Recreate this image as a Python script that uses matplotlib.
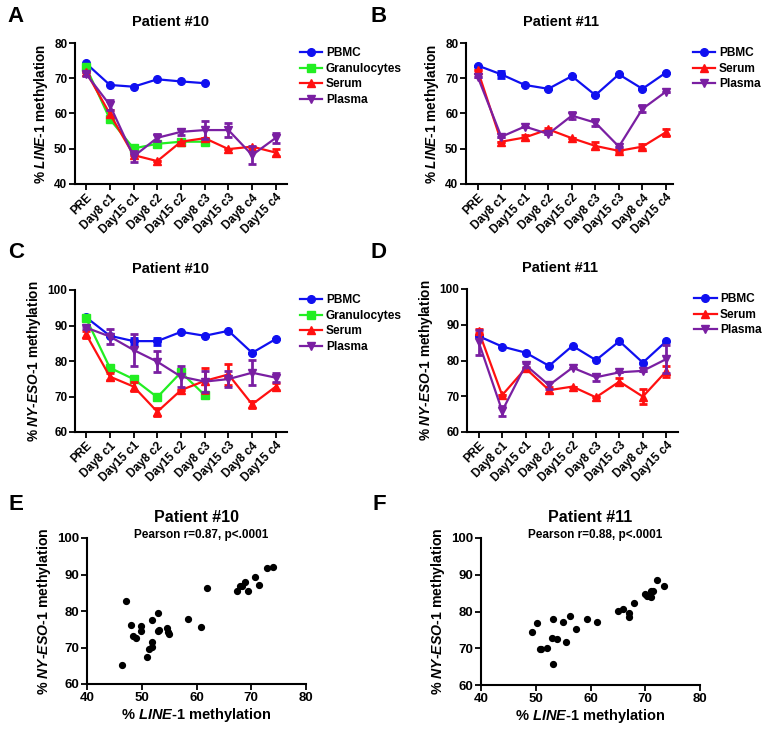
"""Methylation time courses (LINE-1 / NY-ESO-1) and their correlation, patients #10 and #11."""

import matplotlib

matplotlib.use("Agg")

import matplotlib.pyplot as plt
import numpy as np
from matplotlib.lines import Line2D

nan = np.nan

TIMEPOINTS = ["PRE", "Day8 c1", "Day15 c1", "Day8 c2", "Day15 c2",
              "Day8 c3", "Day15 c3", "Day8 c4", "Day15 c4"]

# panel A: LINE-1, patient #10
pbmc_a = [74.2, 68.1, 67.6, 69.7, 69.1, 68.6, nan, nan, nan]
gran_a = [73.1, 58.4, 50.1, 51.4, 52.0, 52.0, nan, nan, nan]
serum_a = [71.8, 59.9, 48.2, 46.5, 52.0, 53.0, 49.9, 50.6, 48.9]
serum_a_err = [0, 1.0, 0, 0, 0, 0, 0, 0, 0.9]
plasma_a = [71.2, 62.4, 47.8, 53.1, 54.8, 55.3, 55.3, 48.2, 53.1]
plasma_a_err = [0.5, 1.4, 1.5, 1.0, 0.8, 2.5, 2.0, 2.5, 1.5]

# panel B: LINE-1, patient #11
pbmc_b = [73.6, 71.1, 68.1, 67.0, 70.6, 65.2, 71.1, 67.0, 71.6]
pbmc_b_err = [0, 1.0, 0, 0, 0, 0, 0, 0, 0]
serum_b = [72.2, 52.0, 53.2, 55.5, 53.0, 50.8, 49.4, 50.6, 54.7]
serum_b_err = [0, 0, 0.8, 0.4, 0, 1.0, 0.3, 0.8, 1.0]
plasma_b = [70.4, 53.4, 56.3, 54.2, 59.4, 57.4, 50.6, 61.3, 66.2]
plasma_b_err = [0, 0, 0, 0, 1.0, 1.0, 0, 1.0, 0]

# panel C: NY-ESO-1, patient #10
pbmc_c = [92.3, 87.1, 85.6, 85.6, 88.2, 87.1, 88.5, 82.3, 86.2]
pbmc_c_err = [0, 0, 1.0, 1.0, 0, 0, 0, 0, 0]
gran_c = [92.0, 78.1, 74.9, 69.8, 76.8, 70.4, nan, nan, nan]
serum_c = [87.5, 75.6, 72.8, 65.7, 71.8, 74.4, 76.2, 67.8, 72.8]
serum_c_err = [1.0, 1.0, 1.2, 1.2, 0, 3.5, 3.0, 1.0, 1.0]
plasma_c = [89.4, 86.9, 83.1, 79.8, 75.6, 74.2, 74.9, 76.7, 75.3]
plasma_c_err = [0.5, 2.0, 4.5, 3.0, 3.0, 3.0, 2.3, 3.5, 1.2]

# panel D: NY-ESO-1, patient #11
pbmc_d = [86.8, 83.9, 82.2, 78.5, 84.1, 80.1, 85.4, 79.4, 85.4]
serum_d = [88.2, 70.3, 77.8, 71.7, 72.7, 69.7, 74.1, 69.9, 77.0]
serum_d_err = [0.5, 0, 0, 0.8, 0, 0, 1.0, 2.0, 1.5]
plasma_d = [85.1, 65.9, 78.7, 73.1, 78.0, 75.3, 76.7, 77.1, 80.4]
plasma_d_err = [3.5, 1.3, 0.5, 1.0, 0, 1.0, 0, 0, 4.0]

# panel E: correlation, patient #10
line1_e = [46.4, 47.2, 48.0, 48.4, 48.9, 49.9, 49.9, 51.0, 51.4, 51.8,
           51.9, 51.9, 52.9, 52.9, 53.2, 54.6, 54.8, 55.0, 58.4, 60.9,
           62.0, 67.4, 67.9, 68.3, 68.9, 69.4, 70.7, 71.4, 72.9, 73.9]
nyeso_e = [65.2, 82.7, 76.3, 73.2, 72.7, 76.0, 74.6, 67.4, 69.7, 70.1,
           71.6, 77.4, 79.4, 74.4, 74.8, 75.3, 74.3, 73.7, 77.9, 75.6,
           86.2, 85.4, 86.8, 86.9, 87.9, 85.4, 89.2, 87.2, 91.9, 92.1]

# panel F: correlation, patient #11
line1_f = [49.4, 50.2, 50.7, 51.0, 52.0, 52.9, 53.2, 53.2, 53.9, 55.0,
           55.6, 56.2, 57.4, 59.4, 61.2, 65.0, 66.0, 67.0, 67.0, 67.9,
           69.9, 70.3, 70.7, 71.0, 71.1, 71.4, 72.2, 73.4]
nyeso_f = [74.5, 76.8, 69.8, 69.8, 70.2, 72.8, 77.9, 65.6, 72.5, 77.2,
           71.6, 78.8, 75.2, 78.0, 77.1, 80.2, 80.8, 79.6, 78.5, 82.2,
           84.7, 84.3, 84.1, 83.9, 85.5, 85.5, 88.7, 87.0]

COLORS = {"PBMC": "#1010f0", "Granulocytes": "#22ee22", "Serum": "#ff1010", "Plasma": "#7a1fa2"}
MARKERS = {"PBMC": "o", "Granulocytes": "s", "Serum": "^", "Plasma": "v"}

W, H = 764, 729

plt.rcParams["font.family"] = ["Liberation Sans", "DejaVu Sans"]
plt.rcParams["font.weight"] = "bold"
plt.rcParams["mathtext.fontset"] = "custom"
plt.rcParams["mathtext.rm"] = "Liberation Sans:bold"
plt.rcParams["mathtext.it"] = "Liberation Sans:italic:bold"
plt.rcParams["mathtext.bf"] = "Liberation Sans:bold"

LINE1_LABEL = "% $\\mathit{LINE}$-$\\mathit{1}$ methylation"
NYESO_LABEL = "% $\\mathit{NY}$-$\\mathit{ESO}$-$\\mathit{1}$ methylation"


def px_axes(fig, left, top, right, bottom):
    return fig.add_axes([left / W, 1 - bottom / H, (right - left) / W, (bottom - top) / H])


def style_axes(ax, tick_size=8.5):
    for side in ["top", "right"]:
        ax.spines[side].set_visible(False)
    for side in ["left", "bottom"]:
        ax.spines[side].set_linewidth(1.5)
    ax.tick_params(direction="out", length=4, width=1.3, labelsize=tick_size, pad=1.5)
    for lab in ax.get_xticklabels() + ax.get_yticklabels():
        lab.set_fontweight("bold")


def time_course(ax, series, ylim, ylabel, title, title_x, xlim, legend_x):
    x = np.arange(len(TIMEPOINTS))
    handles = []
    for name, values, err in series:
        color = COLORS[name]
        if err is not None:
            ax.errorbar(x, values, yerr=err, fmt="none", ecolor=color,
                        elinewidth=2.0, capsize=3, capthick=2.0)
        ax.plot(x, values, color=color, marker=MARKERS[name], markersize=5.5, linewidth=1.6)
        handles.append(Line2D([], [], color=color, marker=MARKERS[name],
                              markersize=5.5, linewidth=1.6, label=name))
    ax.set_xlim(*xlim)
    ax.set_ylim(*ylim)
    ax.set_yticks(np.arange(ylim[0], ylim[1] + 1, 10))
    ax.set_xticks(x)
    ax.set_xticklabels(TIMEPOINTS, rotation=45, ha="right", va="top", rotation_mode="anchor")
    ax.set_ylabel(ylabel, fontsize=9.8, fontweight="bold", labelpad=3)
    style_axes(ax)
    ax.text(title_x, 1.15, title, transform=ax.transAxes, ha="center", va="center",
            fontsize=10.5, fontweight="bold")
    ax.legend(handles=handles, loc="upper left", bbox_to_anchor=(legend_x, 0.97),
              frameon=False, fontsize=8.6, borderaxespad=0, borderpad=0,
              handlelength=1.9, handletextpad=0.3, labelspacing=0.3)


def correlation(ax, xs, ys, title, pearson):
    ax.plot(xs, ys, "o", color="black", markersize=4.2, linestyle="none")
    ax.set_xlim(40, 80)
    ax.set_ylim(60, 100)
    ax.set_xticks([40, 50, 60, 70, 80])
    ax.set_yticks([60, 70, 80, 90, 100])
    ax.set_xlabel(LINE1_LABEL, fontsize=10.5, fontweight="bold", labelpad=2)
    ax.set_ylabel(NYESO_LABEL, fontsize=10.2, fontweight="bold", labelpad=3)
    style_axes(ax, tick_size=9.5)
    ax.text(0.5, 1.14, title, transform=ax.transAxes, ha="center", va="center",
            fontsize=11.5, fontweight="bold")
    ax.text(0.52, 1.02, pearson, transform=ax.transAxes, ha="center", va="center",
            fontsize=8.5, fontweight="bold")


def main() -> None:
    fig = plt.figure(figsize=(W / 100, H / 100), dpi=100)

    ax_a = px_axes(fig, 75, 43, 287, 184)
    time_course(ax_a, [("PBMC", pbmc_a, None), ("Granulocytes", gran_a, None),
                       ("Serum", serum_a, serum_a_err), ("Plasma", plasma_a, plasma_a_err)],
                (40, 80), LINE1_LABEL, "Patient #10", 0.45, (-0.47, 8.47), 1.06)

    ax_b = px_axes(fig, 466, 43, 673, 184)
    time_course(ax_b, [("PBMC", pbmc_b, pbmc_b_err), ("Serum", serum_b, serum_b_err),
                       ("Plasma", plasma_b, plasma_b_err)],
                (40, 80), LINE1_LABEL, "Patient #11", 0.46, (-0.5, 8.3), 1.095)

    ax_c = px_axes(fig, 75, 290, 287, 432)
    time_course(ax_c, [("PBMC", pbmc_c, pbmc_c_err), ("Granulocytes", gran_c, None),
                       ("Serum", serum_c, serum_c_err), ("Plasma", plasma_c, plasma_c_err)],
                (60, 100), NYESO_LABEL, "Patient #10", 0.45, (-0.47, 8.47), 1.06)

    ax_d = px_axes(fig, 467, 289, 678, 432)
    time_course(ax_d, [("PBMC", pbmc_d, None), ("Serum", serum_d, serum_d_err),
                       ("Plasma", plasma_d, plasma_d_err)],
                (60, 100), NYESO_LABEL, "Patient #11", 0.44, (-0.5, 8.5), 1.075)

    ax_e = px_axes(fig, 87, 538, 306, 684)
    correlation(ax_e, line1_e, nyeso_e, "Patient #10", "Pearson r=0.87, p<.0001")

    ax_f = px_axes(fig, 481, 538, 700, 685)
    correlation(ax_f, line1_f, nyeso_f, "Patient #11", "Pearson r=0.88, p<.0001")

    for letter, x, y in [("A", 16, 16), ("B", 379, 16), ("C", 16, 253),
                         ("D", 379, 253), ("E", 16, 505), ("F", 379, 505)]:
        fig.text(x / W, 1 - y / H, letter, ha="center", va="center",
                 fontsize=16, fontweight="bold")

    fig.savefig("out.png", dpi=100)
    plt.close(fig)


if __name__ == "__main__":
    main()
